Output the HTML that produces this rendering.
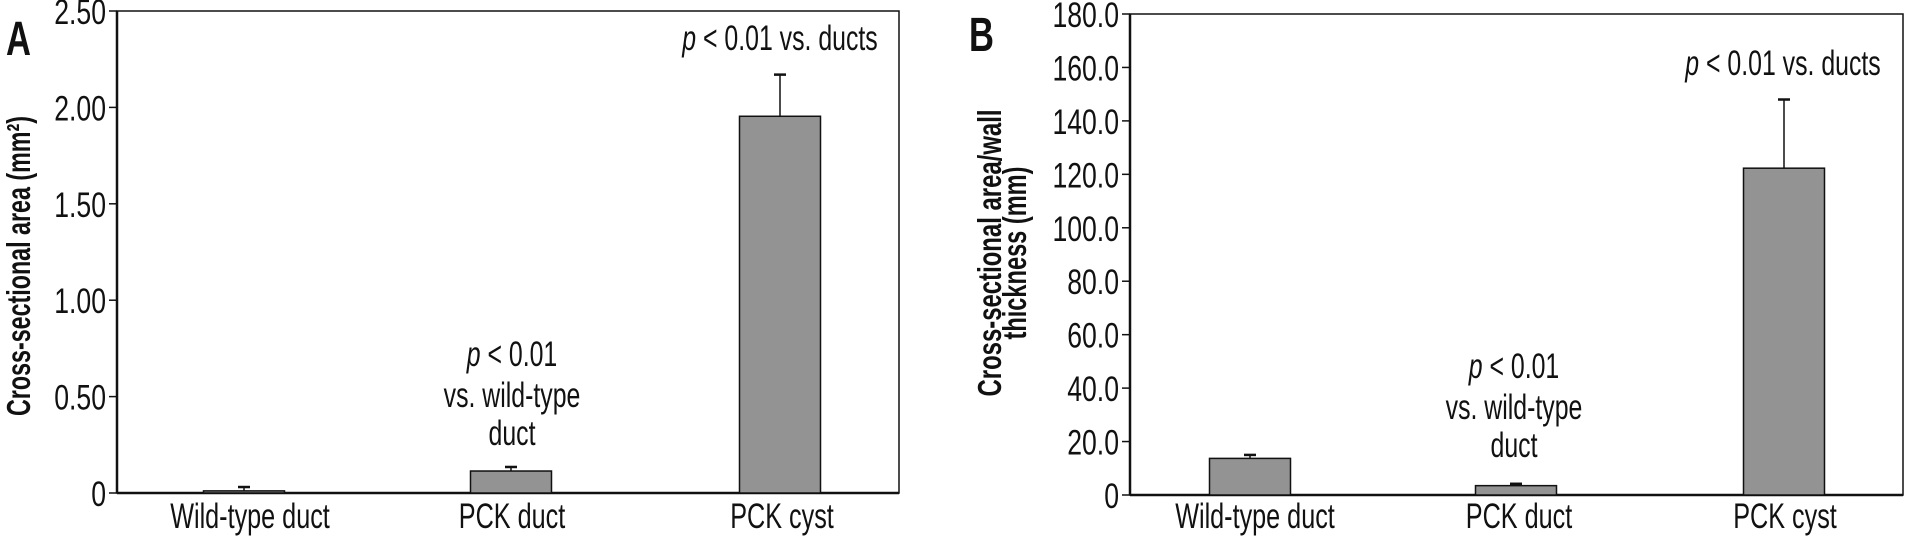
<!DOCTYPE html>
<html><head><meta charset="utf-8"><style>
html,body{margin:0;padding:0;background:#fff;}
svg{display:block;font-family:"Liberation Sans",sans-serif;}
</style></head><body>
<svg id="fig" width="1906" height="537" viewBox="0 0 1906 537" xmlns="http://www.w3.org/2000/svg"></svg>
<script>
const categories = ["Wild-type duct", "PCK duct", "PCK cyst"];
const valuesA = [0.011, 0.114, 1.954];
const errorsA = [0.02, 0.021, 0.216];
const ticksA = [0, 0.5, 1.0, 1.5, 2.0, 2.5];
const tickLabelsA = ["0", "0.50", "1.00", "1.50", "2.00", "2.50"];
const valuesB = [13.7, 3.5, 122.3];
const errorsB = [1.3, 0.7, 25.7];
const ticksB = [0, 20, 40, 60, 80, 100, 120, 140, 160, 180];
const tickLabelsB = ["0", "20.0", "40.0", "60.0", "80.0", "100.0", "120.0", "140.0", "160.0", "180.0"];

const NS = "http://www.w3.org/2000/svg";
const svg = document.getElementById("fig");
function mk(tag, attrs, parent) {
  const e = document.createElementNS(NS, tag);
  for (const k in attrs) e.setAttribute(k, attrs[k]);
  (parent || svg).appendChild(e);
  return e;
}
function txt(str, x, y, size, anchor, sx, weight, italicP, parent) {
  const t = mk("text", {transform: `translate(${x},${y}) scale(${sx},1)`, "font-size": size, "text-anchor": anchor, fill: "#111", "font-weight": weight || "normal"}, parent);
  if (italicP) {
    const s1 = mk("tspan", {"font-style": "italic"}, t); s1.textContent = "p";
    const s2 = mk("tspan", {}, t); s2.textContent = str;
  } else t.textContent = str;
  return t;
}

function panel(cfg) {
  const g = mk("g", {});
  
  
  const y = v => cfg.y0 - (v / cfg.max) * (cfg.y0 - cfg.yTop);
  const frame = mk("rect", {x: cfg.x0, y: cfg.yTop, width: cfg.x1 - cfg.x0, height: cfg.y0 - cfg.yTop, fill: "none", stroke: "#111", "stroke-width": 1.5}, g);
  
  
  const base = mk("line", {x1: cfg.x0, x2: cfg.x1, y1: cfg.y0, y2: cfg.y0, stroke: "#111", "stroke-width": 2.5}, g);
  
  
  const yax = mk("line", {x1: cfg.x0, x2: cfg.x0, y1: cfg.yTop, y2: cfg.y0, stroke: "#111", "stroke-width": 2.5}, g);
  
  
  cfg.ticks.forEach((tv, i) => {
    const yy = y(tv);
    const tk = mk("line", {x1: cfg.x0 - 8, x2: cfg.x0, y1: yy, y2: yy, stroke: "#111", "stroke-width": 1.5}, g);
    
    
    const tl = txt(cfg.tickLabels[i], cfg.x0 - 11, yy + 13, 35, "end", 0.76, "normal", false, g);
    
    
  });
  cfg.values.forEach((v, i) => {
    const cx = cfg.centers[i];
    const top = y(v), cap = y(v + cfg.errors[i]);
    const eb = mk("line", {x1: cx, x2: cx, y1: top, y2: cap, stroke: "#111", "stroke-width": 1.5}, g);
    
    
    const ec = mk("line", {x1: cx - 6, x2: cx + 6, y1: cap, y2: cap, stroke: "#111", "stroke-width": 2.5}, g);
    
    
    const b = mk("rect", {x: cx - cfg.bw / 2, y: top, width: cfg.bw, height: cfg.y0 - top, fill: "#939393", stroke: "#111", "stroke-width": 1.5}, g);
    
    
    const xl = txt(categories[i], cfg.labelX[i], 528, 35, "middle", 0.72, "normal", false, g);
    
    
  });
  const pl = txt(cfg.letter, cfg.letterX, cfg.letterY, 48, "start", 0.72, "bold", false, g);
  
  
  const a1 = txt(" < 0.01 vs. ducts", cfg.annTopX, cfg.annTopY, 35, "middle", 0.71, "normal", true, g);
  
  
  const a2 = txt(" < 0.01", cfg.annDx, cfg.annDy, 35, "middle", 0.71, "normal", true, g);
  
  
  const a3 = txt("vs. wild-type", cfg.annDx, cfg.annDy + 41, 35, "middle", 0.71, "normal", false, g);
  
  
  const a4 = txt("duct", cfg.annDx, cfg.annDy + 79, 35, "middle", 0.71, "normal", false, g);
  
  
  cfg.titles.forEach((t, i) => {
    const tt = mk("text", {transform: `translate(${t.x},${cfg.titleY}) rotate(-90)`, "font-size": 33, "font-weight": "bold", "text-anchor": "middle", fill: "#111", textLength: t.len, lengthAdjust: "spacingAndGlyphs"}, g);
    tt.textContent = t.s;
    
    
  });
}

panel({name: "panel-a", x0: 117, x1: 899, yTop: 11, y0: 493, max: 2.5, ticks: ticksA, tickLabels: tickLabelsA,
  values: valuesA, errors: errorsA, centers: [244, 511, 780], labelX: [250, 512, 782], bw: 81,
  letter: "A", letterX: 6, letterY: 55, annTopX: 780, annTopY: 50, annDx: 512, annDy: 366,
  titleY: 266, titles: [{s: "Cross-sectional area (mm²)", x: 30, len: 300}]});
panel({name: "panel-b", x0: 1130, x1: 1903, yTop: 14, y0: 495, max: 180, ticks: ticksB, tickLabels: tickLabelsB,
  values: valuesB, errors: errorsB, centers: [1250, 1516, 1784], labelX: [1255, 1519, 1785], bw: 81,
  letter: "B", letterX: 969, letterY: 51, annTopX: 1783, annTopY: 75, annDx: 1514, annDy: 378,
  titleY: 253, titles: [{s: "Cross-sectional area/wall", x: 1001, len: 287}, {s: "thickness (mm)", x: 1026, len: 173}]});
</script>
</body></html>
